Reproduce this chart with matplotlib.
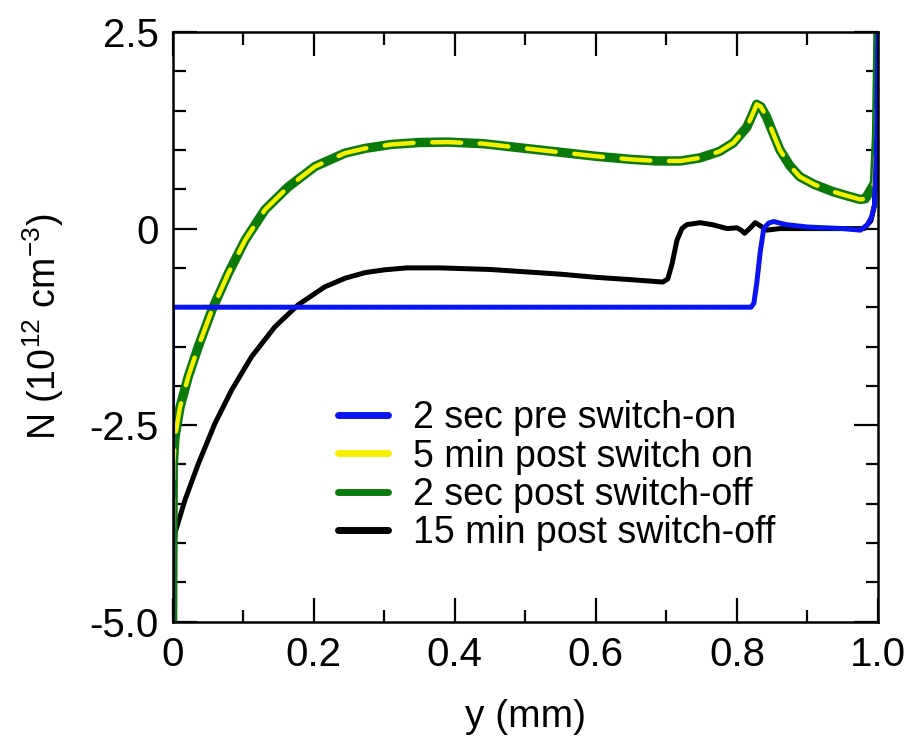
import numpy as np
import matplotlib
matplotlib.use("Agg")
from matplotlib import pyplot as plt
from matplotlib.lines import Line2D
from matplotlib.ticker import MultipleLocator

plt.rcParams['font.family'] = ['Liberation Sans', 'DejaVu Sans']
plt.rcParams['mathtext.fontset'] = 'custom'
plt.rcParams['mathtext.rm'] = 'Liberation Sans'

# 2 sec pre switch-on
x_pre = [0, 0, 0.003, 0.82, 0.824, 0.828, 0.833, 0.838, 0.845, 0.852, 0.87,
         0.9, 0.95, 0.975, 0.985, 0.991, 0.995, 0.998, 1.0]
n_pre = [-5.0, -1.0, -1.0, -1.0, -0.95, -0.7, -0.3, 0.0, 0.07, 0.09, 0.05,
         0.02, 0.0, -0.02, 0.05, 0.15, 0.3, 1.1, 2.5]

# 5 min post switch on / 2 sec post switch-off (same profile)
x_on = [0, 0.001, 0.0035, 0.0106, 0.0224, 0.0366, 0.0556, 0.079, 0.103,
        0.131, 0.164, 0.202, 0.2445, 0.273, 0.31, 0.35, 0.39, 0.44, 0.5,
        0.55, 0.6, 0.65, 0.687, 0.72, 0.748, 0.775, 0.795, 0.814, 0.822,
        0.828, 0.834, 0.842, 0.85, 0.861, 0.875, 0.889, 0.91, 0.936, 0.955,
        0.975, 0.982, 0.988, 0.995, 0.998, 1.0]
n_on = [-5.0, -3.0, -2.65, -2.27, -1.88, -1.50, -1.04, -0.57, -0.145,
        0.24, 0.53, 0.79, 0.96, 1.02, 1.07, 1.095, 1.10, 1.08, 1.02,
        0.97, 0.92, 0.88, 0.86, 0.86, 0.90, 0.98, 1.09, 1.29, 1.45,
        1.58, 1.55, 1.42, 1.24, 1.0, 0.8, 0.66, 0.56, 0.47, 0.42,
        0.37, 0.38, 0.47, 0.58, 1.2, 2.5]

# 15 min post switch-off
x_off = [0, 0.001, 0.0035, 0.0177, 0.0366, 0.060, 0.084, 0.112, 0.145, 0.178,
         0.216, 0.245, 0.273, 0.3, 0.332, 0.379, 0.45, 0.5, 0.55, 0.6, 0.65,
         0.695, 0.702, 0.708, 0.715, 0.722, 0.729, 0.748, 0.765, 0.786, 0.80,
         0.806, 0.811, 0.818, 0.826, 0.834, 0.842, 0.861, 0.9, 0.95, 0.98,
         0.99, 0.995, 1.0]
n_off = [-5.0, -4.2, -3.87, -3.45, -2.99, -2.48, -2.05, -1.63, -1.25, -0.97,
         -0.74, -0.63, -0.56, -0.525, -0.50, -0.50, -0.52, -0.55, -0.58,
         -0.62, -0.65, -0.68, -0.64, -0.45, -0.15, 0.0, 0.05, 0.075, 0.05,
         0.0, 0.01, -0.02, -0.06, 0.0, 0.075, 0.03, -0.02, 0.0, 0.0, 0.0,
         0.0, 0.1, 0.3, 2.5]

labels = ['2 sec pre switch-on', '5 min post switch on',
          '2 sec post switch-off', '15 min post switch-off']
colors = ['#0a14f0', '#f5f000', '#0b7a0b', 'black']

fig = plt.figure(figsize=(9.11, 7.36), dpi=100)
ax = fig.add_axes([0.1894, 0.1553, 0.7744, 0.8012])

ax.plot(x_off, n_off, color=colors[3], lw=3.6, solid_joinstyle='round')
ax.plot(x_on, n_on, color=colors[2], lw=6.8, solid_joinstyle='round')
ax.plot(x_on, n_on, color=colors[1], lw=3.2, dashes=(6.5, 4.2),
        dash_capstyle='round')
ax.plot(x_pre, n_pre, color=colors[0], lw=3.6, solid_joinstyle='round')

ax.set_xlim(0, 1.0)
ax.set_ylim(-5.0, 2.5)
ax.xaxis.set_minor_locator(MultipleLocator(0.1))
ax.yaxis.set_minor_locator(MultipleLocator(0.5))
ax.set_xticks([0, 0.2, 0.4, 0.6, 0.8, 1.0])
ax.set_xticklabels(['0', '0.2', '0.4', '0.6', '0.8', '1.0'])
ax.set_yticks([-5.0, -2.5, 0, 2.5])
ax.set_yticklabels(['-5.0', '-2.5', '0', '2.5'])
ax.tick_params(which='both', direction='in', top=True, right=True,
               labelsize=29, width=1.6)
ax.tick_params(which='major', length=17, pad=10)
ax.tick_params(which='minor', length=9)
for s in ax.spines.values():
    s.set_linewidth(1.8)

ax.set_xlabel('y (mm)', fontsize=28, labelpad=18)
ax.set_ylabel(r'N (10$^{12}$ cm$^{-3}$)', fontsize=27, labelpad=17)

handles = [Line2D([], [], color=c, lw=5, solid_capstyle='round') for c in colors]
ax.legend(handles, labels, loc='upper left', bbox_to_anchor=(0.198, 0.42),
          frameon=False, fontsize=27, handlelength=1.31, handletextpad=0.68,
          labelspacing=0.06, borderpad=0.2)

fig.savefig('out.png', dpi=100)
